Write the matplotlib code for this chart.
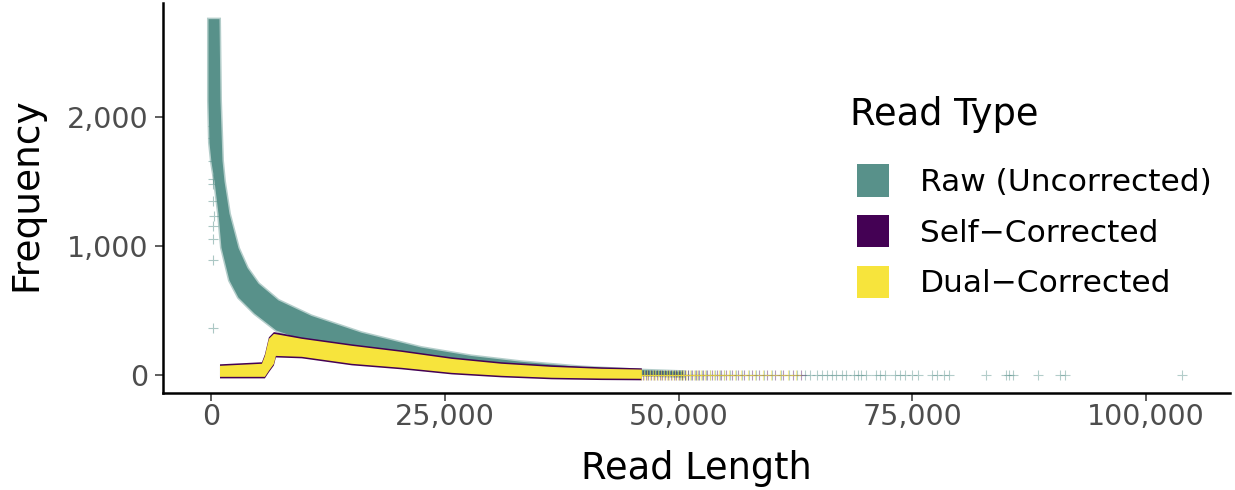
import matplotlib
matplotlib.use("Agg")
import matplotlib.pyplot as plt
from matplotlib.colors import to_rgba
from matplotlib.patches import Patch
from matplotlib.ticker import FuncFormatter, FixedLocator

plt.rcParams["font.family"] = ["DejaVu Sans"]

# ---- series colours ----
raw_color = "#58918A"
self_color = "#440154"
dual_color = "#F7E43C"

series_names = ["Raw (Uncorrected)", "Self\u2212Corrected", "Dual\u2212Corrected"]

# ---- Raw (uncorrected) reads: outline of the dense point cloud ----
# outer (upper/right) edge, from the peak downward
raw_outer_len = [-320, 855, 962, 1175, 1389, 1923, 2885, 3846, 5021, 7158, 10684,
                 16026, 22436, 27778, 33120, 39530, 45940, 50500]
raw_outer_freq = [2757, 2757, 2124, 1660, 1500, 1250, 985, 830, 710, 580, 460,
                  330, 215, 150, 105, 65, 40, 28]
# inner (lower/left) edge, from the peak downward
raw_inner_len = [-320, -320, -214, 0, 320, 748, 1068, 1923, 2885, 4594, 6944,
                 10684, 14957, 20299, 26709, 34188, 43803, 50500]
raw_inner_freq = [2757, 2124, 1800, 1650, 1506, 1251, 988, 734, 602, 479, 347,
                  250, 180, 120, 75, 35, 8, -10]
# isolated short-read counts beside the main cloud
raw_stray_len = [180, 150, 200, 170, 220, 160, 140, 190, 130, 210, 160]
raw_stray_freq = [365, 893, 1055, 1158, 1235, 1351, 1483, 1521, 1660, 1840, 1930]
# long-read tail (single reads)
raw_tail_len = [50100, 50400, 50700, 51000, 51300, 51700, 52100, 52500, 52900,
                53400, 53900, 54400, 54900, 55500, 56100, 56800, 57500, 58300,
                59100, 60000, 60900, 61800, 62700, 63500, 64000,
                64810, 65350, 65900, 66430, 66790, 67520, 67880, 68790, 69150,
                69510, 70050, 71140, 71500, 72030, 73120, 73660, 74200, 74920,
                75650, 77100, 77630, 78350, 78900, 82870, 85040, 85400, 85760,
                88470, 90810, 91350, 103810]
raw_tail_freq = [1] * len(raw_tail_len)

# ---- Self-corrected reads: band edges ----
self_len = [855, 5342, 5662, 6090, 6624, 6838, 9615, 14957, 20299, 25641,
            30983, 36325, 41667, 46000]
self_upper = [89, 105, 166, 298, 338, 336, 298, 244, 197, 143, 105, 81, 66, 58]
self_lower = [-20, -20, -20, 27, 80, 142, 135, 81, 50, 11, -12, -27, -33, -35]
self_tail_len = [46150, 46450, 46750, 47050, 47350, 47650, 47950, 48250, 48550,
                 48850, 49150, 49450, 49750, 50050, 50350, 50650, 51000, 51400,
                 51800, 52200, 52600, 53050, 53550, 54050, 54550, 55100, 55700,
                 56300, 57000, 57800, 58600, 59400, 60300, 61200, 62200, 63100]
self_tail_freq = [1] * len(self_tail_len)

# ---- Dual-corrected reads: band edges ----
dual_len = [855, 5342, 5662, 6090, 6624, 6838, 9615, 14957, 20299, 25641,
            30983, 36325, 41667, 46000]
dual_upper = [77, 93, 154, 286, 324, 322, 286, 232, 185, 131, 93, 69, 54, 48]
dual_lower = [-8, -8, -8, 39, 92, 154, 147, 93, 62, 23, 0, -15, -21, -23]
dual_tail_len = [46000, 46300, 46600, 46900, 47200, 47500, 47800, 48100, 48400,
                 48700, 49000, 49300, 49600, 49900, 50200, 50500, 50800, 51200,
                 51600, 52000, 52400, 52800, 53300, 53800, 54300, 54800, 55400,
                 56000, 56700, 57400, 58200, 59000, 59900, 60800, 61700, 62600]
dual_tail_freq = [1] * len(dual_tail_len)

# ---- axes ticks ----
x_ticks = [0, 25000, 50000, 75000, 100000]
y_ticks = [0, 1000, 2000]

W, H = 1235, 490
fig = plt.figure(figsize=(W / 100, H / 100), dpi=100)
ax = fig.add_axes([163 / W, 1 - 393 / H, (1230 - 163) / W, (393 - 3) / H])

marker_kw = dict(marker="+", s=50, linewidths=0.8)

# raw reads: dense cloud with a soft rim, then isolated points
ax.fill(raw_outer_len + raw_inner_len[::-1], raw_outer_freq + raw_inner_freq[::-1],
        fc=raw_color, ec=to_rgba(raw_color, 0.45), lw=2.2, zorder=2)
ax.scatter(raw_stray_len, raw_stray_freq, color=raw_color, alpha=0.5, zorder=2, **marker_kw)
ax.scatter(raw_tail_len, raw_tail_freq, color=raw_color, alpha=0.45, zorder=2, **marker_kw)

# self-corrected reads
ax.fill_between(self_len, self_lower, self_upper, color=self_color, lw=0, zorder=3)
ax.scatter(self_tail_len, self_tail_freq, color=self_color, alpha=0.4, zorder=3, **marker_kw)

# dual-corrected reads
ax.fill_between(dual_len, dual_lower, dual_upper, color=dual_color, lw=0, zorder=4)
ax.scatter(dual_tail_len, dual_tail_freq, color=dual_color, alpha=0.5, zorder=4, **marker_kw)

ax.set_xlim(-5190, 109000)
ax.set_ylim(-137, 2882)

ax.xaxis.set_major_locator(FixedLocator(x_ticks))
ax.yaxis.set_major_locator(FixedLocator(y_ticks))
comma = FuncFormatter(lambda v, p: f"{int(v):,}")
ax.xaxis.set_major_formatter(comma)
ax.yaxis.set_major_formatter(comma)

for side in ("top", "right"):
    ax.spines[side].set_visible(False)
for side in ("left", "bottom"):
    ax.spines[side].set_linewidth(1.8)
    ax.spines[side].set_color("black")
ax.tick_params(axis="both", length=5.5, width=1.1, color="#333333",
               labelcolor="#4D4D4D", labelsize=20.5)
ax.tick_params(axis="x", pad=2)
ax.tick_params(axis="y", pad=5)

ax.set_xlabel("Read Length", fontsize=26.5, color="black")
ax.set_ylabel("Frequency", fontsize=27, color="black")
ax.xaxis.set_label_coords(0.5, (393 - 450) / 390)
ax.yaxis.set_label_coords((44 - 163) / 1067, 0.51)

# legend: title placed as its own text, keys below
fig.text(850 / W, 1 - 125 / H, "Read Type", fontsize=26.5, color="black",
         ha="left", va="baseline")
handles = [Patch(facecolor=raw_color, edgecolor="none"),
           Patch(facecolor=self_color, edgecolor="none"),
           Patch(facecolor=dual_color, edgecolor="none")]
ax.legend(handles, series_names, loc="upper left",
          bbox_to_anchor=(857 / W, 1 - 164.5 / H), bbox_transform=fig.transFigure,
          frameon=False, fontsize=22.5, borderpad=0, borderaxespad=0,
          handlelength=1.024, handleheight=1.2, handletextpad=1.0,
          labelspacing=0.58)

fig.savefig("out.png", dpi=100, facecolor="white")
